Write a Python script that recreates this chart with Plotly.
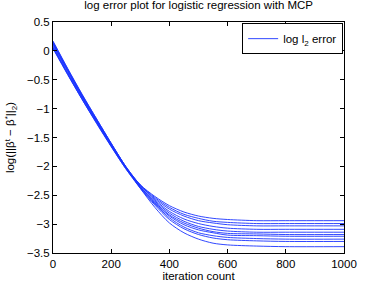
import plotly.graph_objects as go

iters = [0, 50, 100, 150, 200, 250, 300, 350, 400, 450, 500, 550, 600, 700, 800, 1000]

run01 = [0.05, -0.40, -0.84, -1.25, -1.65, -2.02, -2.32, -2.52, -2.68, -2.79, -2.86, -2.90, -2.92, -2.94, -2.94, -2.94]
run02 = [0.13, -0.33, -0.78, -1.20, -1.61, -2.00, -2.32, -2.54, -2.71, -2.83, -2.90, -2.95, -2.97, -2.99, -2.99, -2.99]
run03 = [0.08, -0.38, -0.81, -1.23, -1.64, -2.02, -2.33, -2.56, -2.74, -2.86, -2.94, -2.98, -3.01, -3.03, -3.03, -3.03]
run04 = [0.16, -0.31, -0.76, -1.18, -1.60, -2.00, -2.33, -2.58, -2.78, -2.91, -2.99, -3.04, -3.07, -3.09, -3.09, -3.09]
run05 = [0.10, -0.36, -0.80, -1.22, -1.63, -2.02, -2.35, -2.60, -2.81, -2.95, -3.04, -3.09, -3.12, -3.14, -3.14, -3.14]
run06 = [0.04, -0.41, -0.84, -1.26, -1.66, -2.04, -2.36, -2.62, -2.84, -2.98, -3.07, -3.13, -3.16, -3.17, -3.18, -3.18]
run07 = [0.14, -0.33, -0.77, -1.20, -1.61, -2.01, -2.35, -2.63, -2.86, -3.01, -3.10, -3.15, -3.19, -3.20, -3.21, -3.21]
run08 = [0.12, -0.34, -0.79, -1.21, -1.62, -2.02, -2.37, -2.65, -2.89, -3.05, -3.15, -3.20, -3.23, -3.25, -3.26, -3.26]
run09 = [0.06, -0.39, -0.83, -1.24, -1.65, -2.04, -2.38, -2.67, -2.92, -3.08, -3.18, -3.24, -3.27, -3.29, -3.30, -3.30]
run10 = [0.17, -0.30, -0.75, -1.18, -1.60, -2.01, -2.38, -2.71, -2.98, -3.15, -3.26, -3.33, -3.36, -3.38, -3.39, -3.39]

runs = [run01, run02, run03, run04, run05, run06, run07, run08, run09, run10]

x_ticks = [0, 200, 400, 600, 800, 1000]
y_ticks = [-3.5, -3, -2.5, -2, -1.5, -1, -0.5, 0, 0.5]

FONT = "Liberation Sans, Arial, Helvetica, sans-serif"
FS = 11.5

fig = go.Figure()
for i, r in enumerate(runs):
    fig.add_trace(go.Scatter(
        x=iters, y=r, mode="lines",
        line=dict(color="#1a33ff", width=0.9, shape="spline", smoothing=0.8),
        name="log l<sub>2</sub> error",
        showlegend=(i == 0),
    ))

axis_common = dict(
    showline=True, linecolor="black", linewidth=1, mirror="ticks",
    ticks="inside", ticklen=4, tickcolor="black", tickwidth=1,
    showgrid=False, zeroline=False, automargin=False,
    tickfont=dict(family=FONT, size=FS, color="black"),
)

fig.update_layout(
    width=382, height=286,
    margin=dict(l=53, r=38, t=22, b=33),
    paper_bgcolor="white", plot_bgcolor="white",
    font=dict(family=FONT, size=FS, color="black"),
    title=dict(text="log error plot for logistic regression with MCP",
               x=0.52, xanchor="center", y=0.995, yanchor="top",
               font=dict(family=FONT, size=FS, color="black")),
    xaxis=dict(range=[0, 1000], tickvals=x_ticks, **axis_common,
               title=dict(text="iteration count", standoff=0,
                          font=dict(family=FONT, size=FS, color="black"))),
    yaxis=dict(range=[-3.5, 0.5], tickvals=y_ticks, **axis_common,
               title=dict(text="log(||β<sup>t</sup> − β<sup>*</sup>||<sub>2</sub>)", standoff=9,
                          font=dict(family=FONT, size=FS, color="black"))),
    legend=dict(x=0.997, y=0.995, xanchor="right", yanchor="top",
                bgcolor="white", bordercolor="black", borderwidth=1,
                font=dict(family=FONT, size=FS, color="black"),
                itemwidth=30, tracegroupgap=0),
)

fig.write_html("out.html", config={"displayModeBar": False},
               post_script="document.body.style.margin='0px';document.body.style.overflow='hidden';")
